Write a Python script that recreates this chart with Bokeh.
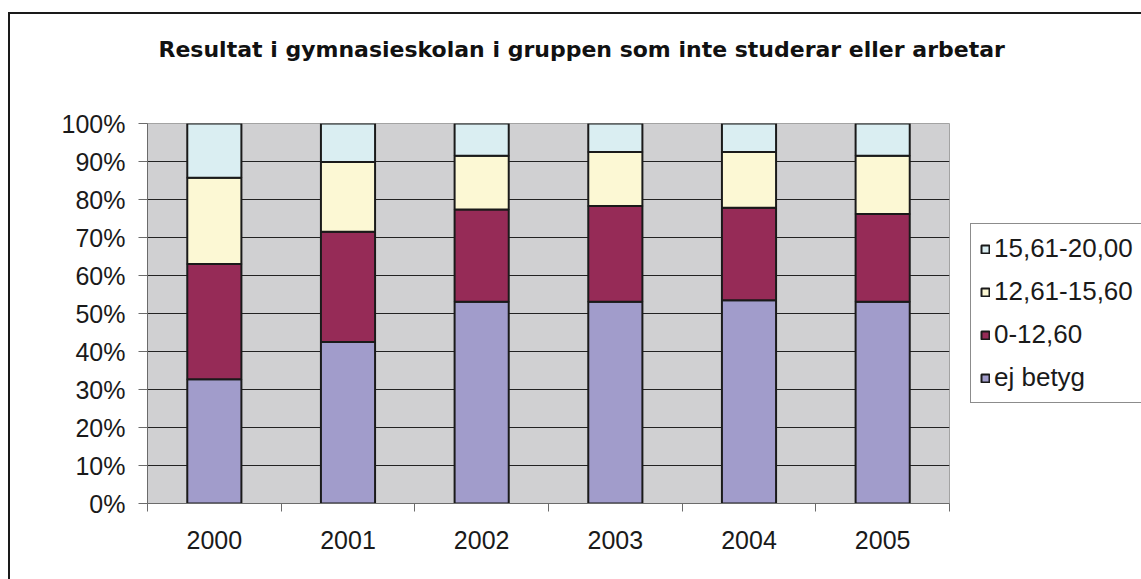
from bokeh.plotting import figure
from bokeh.models import (Range1d, FixedTicker, Legend, LegendItem, Title,
                          PrintfTickFormatter, ColumnDataSource)
from bokeh.embed import file_html
from bokeh.resources import INLINE

# ---- data (percent of each year's group) ----
years = ["2000", "2001", "2002", "2003", "2004", "2005"]
series = ["ej betyg", "0-12,60", "12,61-15,60", "15,61-20,00"]
ej_betyg = [32.7, 42.5, 53.1, 53.1, 53.5, 53.1]
g_0_1260 = [30.3, 29.0, 24.3, 25.2, 24.3, 23.1]
g_1261_1560 = [22.7, 18.4, 14.1, 14.2, 14.7, 15.3]
g_1561_2000 = [14.3, 10.1, 8.5, 7.5, 7.5, 8.5]
colors = ["#a19ccb", "#962b57", "#fcf8d4", "#daeef2"]
y_ticks = [0, 10, 20, 30, 40, 50, 60, 70, 80, 90, 100]
title_text = "Resultat i gymnasieskolan i gruppen som inte studerar eller arbetar"

n = len(years)
centers = [i + 0.5 for i in range(n)]
source = ColumnDataSource(dict(x=centers, year=years,
                               s0=ej_betyg, s1=g_0_1260, s2=g_1261_1560, s3=g_1561_2000))

p = figure(frame_width=802, frame_height=380, x_range=Range1d(0, n), y_range=Range1d(0, 100),
           output_backend="svg", toolbar_location=None,
           min_border_left=137, min_border_right=192, min_border_top=109, min_border_bottom=76,
           background_fill_color="#d0d0d2", border_fill_color="white",
           outline_line_color="#a3a3a3", outline_line_width=1)
p.styles = {"border-top": "2px solid #1a1a1a", "border-left": "2px solid #1a1a1a",
            "margin-top": "12px", "margin-left": "8px"}

renderers = p.vbar_stack(["s0", "s1", "s2", "s3"], x="x", width=0.405, source=source,
                         fill_color=colors, line_color="#1a1a1a", line_width=2)

# axes
p.xaxis.ticker = FixedTicker(ticks=centers, minor_ticks=list(range(n + 1)))
p.xaxis.major_label_overrides = {c: y for c, y in zip(centers, years)}
p.xaxis.major_tick_out = 0
p.xaxis.major_tick_in = 0
p.xaxis.minor_tick_out = 8
p.xaxis.minor_tick_in = 0
p.xaxis.minor_tick_line_color = "#6b6b6b"
p.xaxis.axis_line_color = "#6b6b6b"
p.xaxis.major_label_standoff = 19

p.yaxis.ticker = FixedTicker(ticks=y_ticks)
p.yaxis.formatter = PrintfTickFormatter(format="%d%%")
p.yaxis.major_tick_out = 9
p.yaxis.major_tick_in = 0
p.yaxis.minor_tick_line_color = None
p.yaxis.major_tick_line_color = "#6b6b6b"
p.yaxis.axis_line_color = "#6b6b6b"
p.yaxis.major_label_standoff = 13

for ax in (p.xaxis[0], p.yaxis[0]):
    ax.major_label_text_font = "Liberation Sans"
    ax.major_label_text_font_size = "25px"
    ax.major_label_text_color = "#1a1a1a"

p.xgrid.visible = False
p.ygrid.ticker = FixedTicker(ticks=y_ticks[1:-1])
p.ygrid.grid_line_color = "#222222"
p.ygrid.grid_line_width = 1

# legend (reverse order, top = last series)
items = [LegendItem(label=series[i], renderers=[renderers[i]]) for i in reversed(range(len(series)))]
legend = Legend(items=items, location="center_left", margin=21, padding=9,
                glyph_width=10, glyph_height=10, label_standoff=4, label_width=141,
                label_height=29, spacing=12,
                label_text_font="Liberation Sans", label_text_font_size="26px",
                label_text_color="#1a1a1a",
                border_line_color="#1a1a1a", border_line_width=1,
                background_fill_color="white", background_fill_alpha=1)
p.add_layout(legend, "right")

# two empty trailing lines keep the title's first line higher above the frame
title = Title(text=title_text + "\n\n", text_font="DejaVu Sans", text_font_style="bold",
              text_font_size="22px", text_color="#111111", align="left",
              vertical_align="top", offset=11, standoff=20, text_line_height=1.0)
p.add_layout(title, "above")

open("out.html", "w").write(file_html(p, INLINE))
